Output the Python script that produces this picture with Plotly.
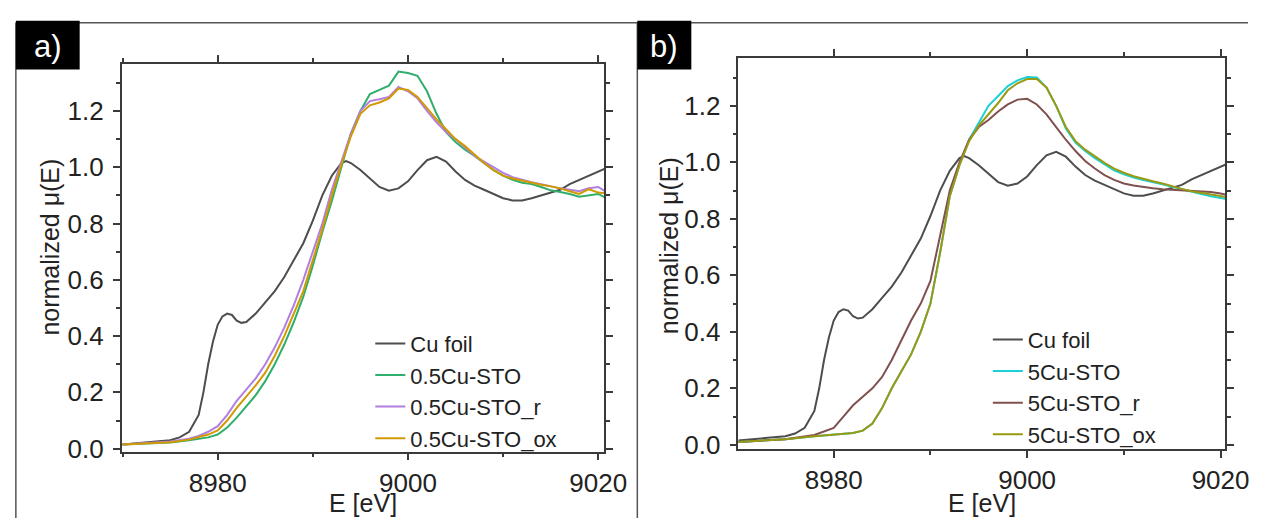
import plotly.graph_objects as go

# ---------------- data ----------------
E_foil = [8970, 8972, 8974, 8975, 8976, 8977, 8978, 8978.5, 8979, 8979.5, 8980, 8980.5,
          8981, 8981.5, 8982, 8982.5, 8983, 8984, 8985, 8986, 8987, 8988, 8989, 8990,
          8991, 8992, 8993, 8993.5, 8994, 8995, 8996, 8997, 8998, 8999, 9000, 9001,
          9002, 9003, 9004, 9005, 9006, 9007, 9008, 9009, 9010, 9011, 9012, 9013,
          9014, 9015, 9016, 9017, 9018, 9019, 9020, 9020.7]
mu_foil = [0.015, 0.02, 0.025, 0.03, 0.04, 0.06, 0.12, 0.2, 0.3, 0.38, 0.44, 0.47,
           0.48, 0.475, 0.455, 0.447, 0.45, 0.48, 0.52, 0.56, 0.61, 0.67, 0.73, 0.81,
           0.9, 0.97, 1.015, 1.022, 1.015, 0.99, 0.96, 0.93, 0.917, 0.925, 0.95, 0.99,
           1.025, 1.037, 1.02, 0.985, 0.955, 0.935, 0.92, 0.905, 0.89, 0.882, 0.882, 0.89,
           0.9, 0.91, 0.92, 0.94, 0.955, 0.97, 0.985, 0.995]

E_a = [8970, 8975, 8977, 8978, 8979, 8980, 8981, 8982, 8983, 8984, 8985, 8986, 8987,
       8988, 8989, 8990, 8991, 8992, 8993, 8994, 8995, 8996, 8997, 8998, 8999, 9000,
       9001, 9002, 9003, 9004, 9005, 9006, 9007, 9008, 9009, 9010, 9011, 9012, 9013,
       9014, 9015, 9016, 9017, 9018, 9019, 9020, 9020.7]
mu_05 = [0.015, 0.022, 0.03, 0.035, 0.04, 0.05, 0.075, 0.11, 0.15, 0.19, 0.24, 0.3, 0.37,
         0.45, 0.54, 0.65, 0.77, 0.88, 1.0, 1.12, 1.2, 1.26, 1.275, 1.29, 1.34, 1.335,
         1.325, 1.27, 1.19, 1.125, 1.09, 1.062, 1.04, 1.015, 0.99, 0.97, 0.955, 0.945, 0.94,
         0.93, 0.918, 0.912, 0.905, 0.895, 0.9, 0.905, 0.893]
mu_05_r = [0.015, 0.025, 0.035, 0.045, 0.06, 0.08, 0.12, 0.17, 0.21, 0.25, 0.3, 0.36, 0.43,
           0.51, 0.6, 0.7, 0.8, 0.92, 1.02, 1.12, 1.2, 1.235, 1.242, 1.25, 1.285, 1.27,
           1.245, 1.2, 1.16, 1.125, 1.1, 1.07, 1.04, 1.02, 1.0, 0.98, 0.965, 0.955, 0.947,
           0.94, 0.932, 0.925, 0.92, 0.915, 0.925, 0.93, 0.915]
mu_05_ox = [0.015, 0.023, 0.032, 0.04, 0.05, 0.065, 0.1, 0.145, 0.185, 0.225, 0.27, 0.33, 0.4,
            0.48, 0.56, 0.67, 0.78, 0.9, 1.01, 1.11, 1.19, 1.22, 1.23, 1.245, 1.28, 1.275,
            1.25, 1.21, 1.17, 1.135, 1.1, 1.075, 1.045, 1.015, 0.99, 0.97, 0.96, 0.952, 0.945,
            0.938, 0.932, 0.925, 0.915, 0.905, 0.922, 0.91, 0.908]

E_b = [8970, 8975, 8978, 8980, 8981, 8982, 8983, 8984, 8985, 8986, 8987, 8988, 8989,
       8990, 8991, 8992, 8993, 8994, 8995, 8996, 8997, 8998, 8999, 9000, 9001, 9002,
       9003, 9004, 9005, 9006, 9007, 9008, 9009, 9010, 9011, 9012, 9013, 9014, 9015,
       9016, 9017, 9018, 9019, 9020, 9020.6]
mu_5 = [0.01, 0.02, 0.03, 0.035, 0.038, 0.042, 0.05, 0.075, 0.13, 0.2, 0.26, 0.32, 0.4,
        0.5, 0.68, 0.88, 0.99, 1.08, 1.14, 1.2, 1.235, 1.27, 1.29, 1.302, 1.3, 1.265,
        1.2, 1.12, 1.07, 1.04, 1.015, 0.993, 0.972, 0.958, 0.946, 0.937, 0.93, 0.922, 0.913,
        0.904, 0.895, 0.888, 0.88, 0.874, 0.87]
mu_5_r = [0.01, 0.02, 0.035, 0.06, 0.1, 0.14, 0.17, 0.2, 0.24, 0.3, 0.37, 0.44, 0.5,
          0.58, 0.74, 0.9, 1.0, 1.08, 1.125, 1.15, 1.18, 1.205, 1.222, 1.225, 1.205, 1.17,
          1.125, 1.08, 1.04, 1.005, 0.978, 0.955, 0.938, 0.925, 0.918, 0.912, 0.908, 0.905, 0.903,
          0.901, 0.9, 0.898, 0.895, 0.89, 0.885]
mu_5_ox = [0.01, 0.02, 0.03, 0.035, 0.038, 0.042, 0.05, 0.075, 0.13, 0.2, 0.26, 0.32, 0.4,
           0.5, 0.68, 0.88, 0.99, 1.075, 1.13, 1.17, 1.21, 1.255, 1.28, 1.295, 1.295, 1.265,
           1.2, 1.125, 1.075, 1.045, 1.02, 0.998, 0.978, 0.963, 0.951, 0.941, 0.933, 0.925, 0.915,
           0.906, 0.898, 0.892, 0.886, 0.88, 0.877]

names_a = ["Cu foil", "0.5Cu-STO", "0.5Cu-STO_r", "0.5Cu-STO_ox"]
names_b = ["Cu foil", "5Cu-STO", "5Cu-STO_r", "5Cu-STO_ox"]
colors_a = ["#4d4d4d", "#2fae6c", "#b27ee2", "#d19a00"]
colors_b = ["#4d4d4d", "#1cd0d6", "#805050", "#9a9a12"]

x_ticks = [8980, 9000, 9020]
x_tick_labels = ["8980", "9000", "9020"]

# ---------------- figure ----------------
W, H = 1263, 522
FONT = "Liberation Sans, Arial, sans-serif"
AX = "#3a3a3a"

def px(x):
    return x / W

def py(y):
    return 1 - y / H

fig = go.Figure()

series_a = [(E_foil, mu_foil), (E_a, mu_05), (E_a, mu_05_r), (E_a, mu_05_ox)]
series_b = [(E_foil, mu_foil), (E_b, mu_5), (E_b, mu_5_r), (E_b, mu_5_ox)]

for (xs, ys), n, c in zip(series_a, names_a, colors_a):
    fig.add_trace(go.Scatter(x=xs, y=ys, name=n, mode="lines",
                             line=dict(color=c, width=2),
                             xaxis="x", yaxis="y", legend="legend"))
for (xs, ys), n, c in zip(series_b, names_b, colors_b):
    fig.add_trace(go.Scatter(x=xs, y=ys, name=n, mode="lines",
                             line=dict(color=c, width=2),
                             xaxis="x2", yaxis="y2", legend="legend2"))

def xax(domain, rng, anchor):
    return dict(domain=domain, range=rng, anchor=anchor,
                tickvals=x_ticks, ticktext=x_tick_labels,
                ticks="outside", ticklen=7, tickwidth=1.5, tickcolor=AX,
                minor=dict(dtick=10, tick0=8980, ticks="outside", ticklen=4,
                           tickwidth=1.5, tickcolor=AX),
                showline=True, linecolor=AX, linewidth=1.5, mirror="ticks",
                showgrid=False, zeroline=False,
                tickfont=dict(family=FONT, size=26, color="#222"))

def yax(domain, rng, anchor):
    return dict(domain=domain, range=rng, anchor=anchor,
                dtick=0.2, tick0=0, tickformat=".1f",
                ticks="outside", ticklen=7, tickwidth=1.5, tickcolor=AX,
                minor=dict(dtick=0.1, tick0=0, ticks="outside", ticklen=4,
                           tickwidth=1.5, tickcolor=AX),
                showline=True, linecolor=AX, linewidth=1.5, mirror="ticks",
                showgrid=False, zeroline=False, ticklabelstandoff=4,
                tickfont=dict(family=FONT, size=26, color="#222"))

fig.update_layout(
    width=W, height=H,
    margin=dict(l=0, r=0, t=0, b=0),
    paper_bgcolor="white", plot_bgcolor="white",
    font=dict(family=FONT, color="#222"),
    xaxis=xax([px(115.7), px(607.5)], [8969.9, 9020.65], "y"),
    yaxis=yax([py(454), py(57.3)], [-0.0104, 1.367], "x"),
    xaxis2=xax([px(744), px(1240)], [8970.15, 9020.5], "y2"),
    yaxis2=yax([py(451.7), py(51)], [-0.016, 1.37], "x2"),
    legend=dict(x=px(369), y=py(322), xanchor="left", yanchor="top",
                bgcolor="rgba(0,0,0,0)", borderwidth=0,
                font=dict(family=FONT, size=22, color="#222"),
                tracegroupgap=0, itemwidth=30),
    legend2=dict(x=px(998), y=py(318), xanchor="left", yanchor="top",
                 bgcolor="rgba(0,0,0,0)", borderwidth=0,
                 font=dict(family=FONT, size=22, color="#222"),
                 tracegroupgap=0, itemwidth=30),
    showlegend=True,
)

# panel frames
frame = dict(color="#555555", width=1.5)
fig.add_shape(type="line", xref="paper", yref="paper",
              x0=px(8), x1=1, y0=py(15), y1=py(15), line=frame)
fig.add_shape(type="line", xref="paper", yref="paper",
              x0=px(8), x1=px(8), y0=py(15), y1=0, line=frame)
fig.add_shape(type="line", xref="paper", yref="paper",
              x0=px(641), x1=px(641), y0=py(15), y1=0, line=frame)

# panel label boxes
for (x0, x1, lab) in [(8, 73, "a)"), (641, 696, "b)")]:
    fig.add_shape(type="rect", xref="paper", yref="paper",
                  x0=px(x0), x1=px(x1), y0=py(63), y1=py(13),
                  fillcolor="black", line=dict(width=0))
    fig.add_annotation(xref="paper", yref="paper", x=px((x0 + x1) / 2), y=py(39),
                       text=lab, showarrow=False, xanchor="center", yanchor="middle",
                       font=dict(family=FONT, size=31, color="white"))

# axis titles
for xc in [361.6, 992]:
    fig.add_annotation(xref="paper", yref="paper", x=px(xc), y=py(507),
                       text="E [eV]", showarrow=False, xanchor="center", yanchor="middle",
                       font=dict(family=FONT, size=25, color="#222"))
for (xc, yc) in [(43, 245), (674, 243)]:
    fig.add_annotation(xref="paper", yref="paper", x=px(xc), y=py(yc),
                       text="normalized μ(E)", showarrow=False, textangle=-90,
                       xanchor="center", yanchor="middle",
                       font=dict(family=FONT, size=25, color="#222"))

fig.write_html("out.html")
